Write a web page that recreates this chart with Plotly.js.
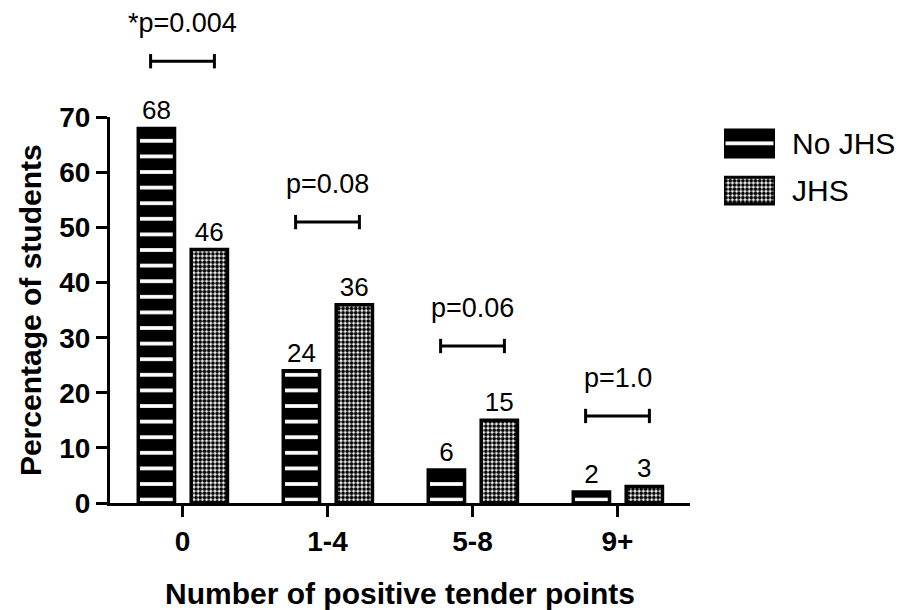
<!DOCTYPE html>
<html>
<head>
<meta charset="utf-8">
<script src="https://cdn.plot.ly/plotly-3.0.1.min.js"></script>
<style>
  html, body { margin: 0; padding: 0; background: #ffffff; }
  #chart { width: 907px; height: 610px; }
</style>
</head>
<body>
<div id="chart"></div>
<script>
// Tender point counts and share of students in each group
const categories = ['0', '1-4', '5-8', '9+'];
const seriesNames = ['No JHS', 'JHS'];
const noJhsValues = [68, 24, 6, 2];
const jhsValues = [46, 36, 15, 3];
const pValueLabels = ['*p=0.004', 'p=0.08', 'p=0.06', 'p=1.0'];
const yTickValues = [0, 10, 20, 30, 40, 50, 60, 70];

// Layout constants
const FONT = 'Arial, "Liberation Sans", Helvetica, sans-serif';
const Y_MAX = 70;          // value axis ends at 70
const Y_TOP = 89.5;        // headroom above for the significance brackets
const bracketLevels = [80.2, 51, 28.5, 15.8];
const bracketHalf = 0.22;
const capHalf = 1.3;
const barWidth = 0.25;
const offsets = [-0.305, 0.06];

const stripePattern = { shape: '-', bgcolor: '#000000', fgcolor: '#ffffff', size: 15.6, solidity: 0.24, fillmode: 'replace' };
const checkPattern = { shape: '.', bgcolor: '#ffffff', fgcolor: '#000000', size: 4.2, solidity: 0.62, fillmode: 'replace' };
const patterns = [stripePattern, checkPattern];

function barTrace(values, i) {
  return {
    type: 'bar',
    name: seriesNames[i],
    x: categories,
    y: values,
    width: barWidth,
    offset: offsets[i],
    marker: { color: i === 0 ? '#000000' : '#ffffff', pattern: patterns[i], line: { color: '#000000', width: 3.5 } },
    text: values.map(String),
    textposition: 'outside',
    textfont: { family: FONT, size: 26, color: '#000000' },
    cliponaxis: false,
    hoverinfo: 'x+y+name',
    showlegend: false,
    xaxis: 'x',
    yaxis: 'y'
  };
}

// Legend swatches drawn as bars in their own small axes
const legendTraces = seriesNames.map((name, i) => ({
  type: 'bar',
  orientation: 'h',
  x: [1],
  y: [name],
  width: 0.57,
  marker: { color: i === 0 ? '#000000' : '#ffffff', pattern: patterns[i], line: { color: '#000000', width: 3 } },
  hoverinfo: 'skip',
  showlegend: false,
  xaxis: 'x2',
  yaxis: 'y2'
}));

// Empty trace so the bracket layer (x / y3) exists as a subplot
const bracketLayer = { type: 'scatter', x: [], y: [], xaxis: 'x', yaxis: 'y3', hoverinfo: 'skip', showlegend: false };

const shapes = [];
const annotations = [];
categories.forEach((c, i) => {
  const yb = bracketLevels[i];
  const line = { color: '#000000', width: 3 };
  shapes.push({ type: 'line', xref: 'x', yref: 'y3', x0: i - bracketHalf, x1: i + bracketHalf, y0: yb, y1: yb, line });
  shapes.push({ type: 'line', xref: 'x', yref: 'y3', x0: i - bracketHalf, x1: i - bracketHalf, y0: yb - capHalf, y1: yb + capHalf, line });
  shapes.push({ type: 'line', xref: 'x', yref: 'y3', x0: i + bracketHalf, x1: i + bracketHalf, y0: yb - capHalf, y1: yb + capHalf, line });
  annotations.push({
    xref: 'x', yref: 'y3', x: i, y: yb, yshift: 38, yanchor: 'middle', xanchor: 'center',
    text: pValueLabels[i], showarrow: false,
    font: { family: FONT, size: 27, color: '#000000' }
  });
});
seriesNames.forEach(name => {
  annotations.push({
    xref: 'paper', yref: 'y2', x: (790 - 110) / 787, y: name, xanchor: 'left', yanchor: 'middle',
    text: name, showarrow: false,
    font: { family: FONT, size: 30, color: '#000000' }
  });
});

const layout = {
  width: 907,
  height: 610,
  margin: { l: 110, r: 10, t: 10, b: 107 },
  paper_bgcolor: '#ffffff',
  plot_bgcolor: 'rgba(0,0,0,0)',
  showlegend: false,
  barmode: 'overlay',
  font: { family: FONT, color: '#000000' },
  xaxis: {
    domain: [0, 580 / 787],
    type: 'category',
    range: [-0.5, 3.5],
    anchor: 'y',
    showline: true, linecolor: '#000000', linewidth: 3,
    ticks: 'outside', ticklen: 11, tickwidth: 3, tickcolor: '#000000',
    showgrid: false, zeroline: false,
    tickfont: { family: FONT, size: 28, color: '#000000', weight: 'bold' },
    title: { text: '<b>Number of positive tender points</b>', font: { family: FONT, size: 30, color: '#000000' }, standoff: 28 },
    automargin: false
  },
  yaxis: {
    domain: [0, Y_MAX / Y_TOP],
    range: [0, Y_MAX],
    anchor: 'x',
    tickvals: yTickValues,
    showline: true, linecolor: '#000000', linewidth: 3,
    ticks: 'outside', ticklen: 11, tickwidth: 3, tickcolor: '#000000',
    showgrid: false, zeroline: false,
    tickfont: { family: FONT, size: 28, color: '#000000', weight: 'bold' },
    title: { text: '<b>Percentage of students</b>', font: { family: FONT, size: 30, color: '#000000' }, standoff: 9 },
    automargin: false
  },
  yaxis3: {
    domain: [0, 1],
    range: [0, Y_TOP],
    anchor: 'x',
    visible: false,
    showgrid: false, zeroline: false
  },
  xaxis2: {
    domain: [(724 - 110) / 787, (775 - 110) / 787],
    range: [0, 1],
    anchor: 'y2',
    visible: false, showgrid: false, zeroline: false
  },
  yaxis2: {
    domain: [0.586, 0.777],
    type: 'category',
    autorange: 'reversed',
    anchor: 'x2',
    visible: false, showgrid: false, zeroline: false
  },
  shapes: shapes,
  annotations: annotations
};

const data = [barTrace(noJhsValues, 0), barTrace(jhsValues, 1), bracketLayer].concat(legendTraces);
Plotly.newPlot('chart', data, layout, { displayModeBar: false, staticPlot: true });
</script>
</body>
</html>
